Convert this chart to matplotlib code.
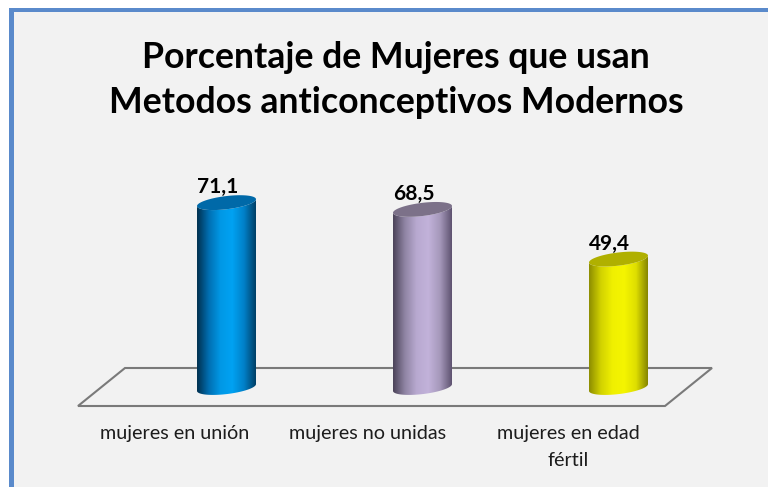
import matplotlib
matplotlib.use('Agg')
import matplotlib.pyplot as plt
from matplotlib.colors import LinearSegmentedColormap
from matplotlib.patches import Polygon, Rectangle
import numpy as np

categories = ['mujeres en unión', 'mujeres no unidas', 'mujeres en edad\nfértil']
values = [71.1, 68.5, 49.4]
labels = ['71,1', '68,5', '49,4']
title = 'Porcentaje de Mujeres que usan\nMetodos anticonceptivos Modernos'

side_colors = [['#00304f', '#006fb2', '#0098e6', '#00a2f2', '#0080c8', '#003f66'],
               ['#4a4258', '#8f84a3', '#b8a9d0', '#c2b2da', '#a598ba', '#5e5270'],
               ['#8c8c00', '#d2d200', '#f0f000', '#f5f500', '#dede00', '#858500']]
cap_colors = ['#0069a8', '#7c7189', '#b0b000']

# pixel scale of the picture
x0_px, x_step = 226.5, 196.0
y0_px, y_step = 387.5, 2.6
W, H = 768, 487


def dx(px):
    return (px - x0_px) / x_step


def dy(py):
    return (y0_px - py) / y_step


fig = plt.figure(figsize=(W / 100, H / 100), dpi=100, facecolor='white')
ax = fig.add_axes([0, 0, 1, 1])
ax.axis('off')

# panel and frame
ax.add_patch(Rectangle((dx(9), dy(H)), dx(W + 5) - dx(9), dy(8) - dy(H),
                       fc='#f2f2f2', ec='none', zorder=0))
ax.add_patch(Rectangle((dx(9), dy(H)), dx(14) - dx(9), dy(8) - dy(H),
                       fc='#5a8acb', ec='none', zorder=1))
ax.add_patch(Rectangle((dx(9), dy(12)), dx(W + 5) - dx(9), dy(8) - dy(12),
                       fc='#5a8acb', ec='none', zorder=1))

# floor
floor = [(78, 406), (125, 368), (712, 368), (665, 406)]
ax.add_patch(Polygon([(dx(a), dy(b)) for a, b in floor], closed=True, fc='none',
                     ec='#7a7a7a', lw=1.5, zorder=2))

half_w = 29.5 / x_step
half_h = 6.6 / y_step
tilt = 3.4 / y_step
t = np.linspace(0, 2 * np.pi, 120)

for i, v in enumerate(values):
    ex = i + half_w * np.cos(t)
    e_off = half_h * np.sin(t) + tilt * np.cos(t)
    lower = t >= np.pi
    order = np.argsort(ex[lower])
    outline = np.vstack([
        np.column_stack([ex[lower][order], e_off[lower][order]]),
        np.column_stack([ex[lower][order][::-1], v + e_off[lower][order][::-1]]),
    ])
    cmap = LinearSegmentedColormap.from_list('side', side_colors[i])
    grad = np.linspace(0, 1, 256).reshape(1, -1)
    im = ax.imshow(grad, cmap=cmap, aspect='auto', zorder=3,
                   extent=(i - half_w, i + half_w, -half_h * 3, v + half_h * 3))
    body = Polygon(outline, closed=True, fc='none', ec='none', transform=ax.transData)
    ax.add_patch(body)
    im.set_clip_path(body)
    ax.fill(ex, v + e_off, color=cap_colors[i], lw=0, zorder=4)
    ax.text(i - 0.045, v + 2.1, labels[i], ha='center', va='bottom', fontsize=15,
            fontweight='bold', color='black', zorder=5)

ax.set_xlim(dx(0), dx(W))
ax.set_ylim(dy(H), dy(0))

cat_x = [175, 368, 568]
for cx, c in zip(cat_x, categories):
    ax.text(dx(cx), dy(425), c, ha='center', va='top', fontsize=14.2, color='#1c1c1c',
            linespacing=1.75, zorder=5)

ax.text(dx(396), dy(80), title, ha='center', va='center', fontsize=25.7, fontweight='bold',
        color='black', linespacing=1.48, zorder=5)

for txt in ax.texts:
    txt.set_family('Lato')

fig.savefig('out.png', dpi=100)
